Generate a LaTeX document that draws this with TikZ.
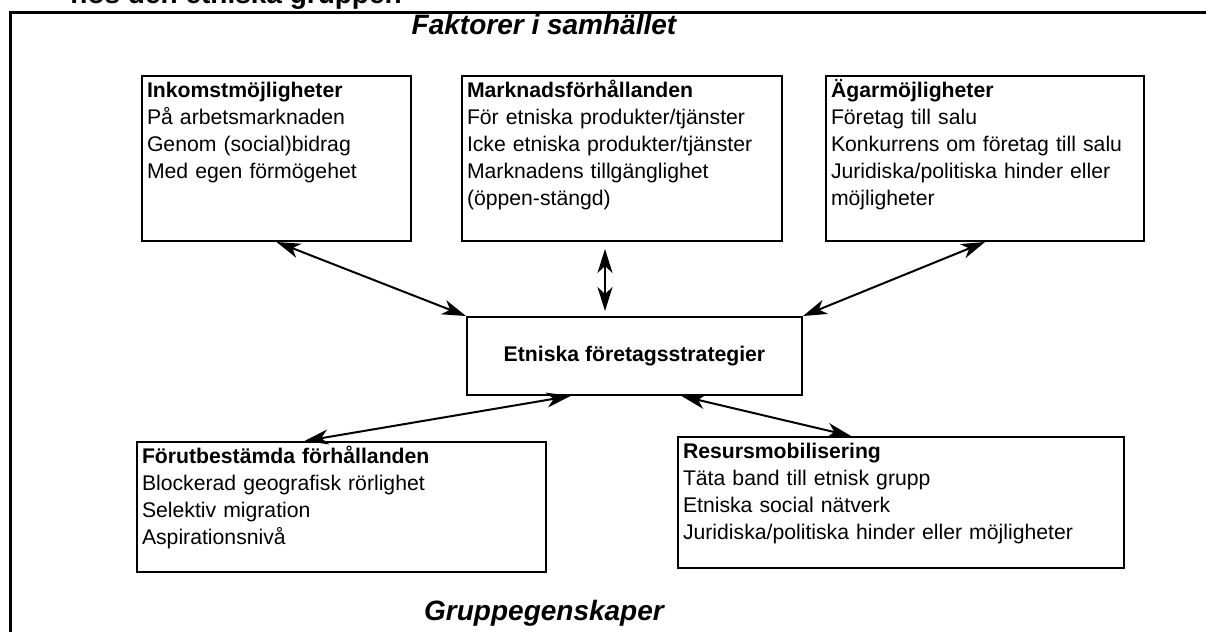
\documentclass[tikz,border=0pt]{standalone}
\usepackage{fontspec}
\setmainfont{Liberation Sans}
\usetikzlibrary{arrows.meta}

\tikzset{
  faktor/.style={draw, line width=1pt, anchor=north west, align=left,
    inner xsep=2.5pt, inner ysep=2.5pt, text height=8pt,
    font=\fontsize{10.6}{13.5}\selectfont},
  pil/.style={{Stealth[length=12pt,width=7.5pt,inset=3.5pt]}-{Stealth[length=12pt,width=7.5pt,inset=3.5pt]}, line width=1pt},
  rubrik/.style={anchor=base, inner sep=0pt, font=\fontsize{14}{16}\selectfont\bfseries\itshape}
}

\begin{document}
\begin{tikzpicture}[x=0.5pt,y=-0.5pt]
    \useasboundingbox (0,0) rectangle (1206,632);
    \clip (0,0) rectangle (1206,632);
    % ram och rubriker
    \draw[line width=1.5pt] (10.5,12.5) rectangle (1230,660);
    \node[anchor=base west, inner sep=0pt, font=\fontsize{14}{16}\selectfont\bfseries] (figtext) at (70,3) {hos den etniska gruppen};
    \node[rubrik] (samhalle) at (544,34) {Faktorer i samhället};
    \node[rubrik] (grupp) at (544,620) {Gruppegenskaper};
    % faktorer i samhallet
    \node[faktor, text width=129.5pt, text depth=69.5pt] (inkomst) at (141,75) {\textbf{Inkomstmöjligheter}\\På arbetsmarknaden\\Genom (social)bidrag\\Med egen förmögehet};
    \node[faktor, text width=155pt, text depth=69.5pt] (marknad) at (461,75) {\textbf{Marknadsförhållanden}\\För etniska produkter/tjänster\\Icke etniska produkter/tjänster\\Marknadens tillgänglighet\\(öppen-stängd)};
    \node[faktor, text width=154pt, text depth=69.5pt] (agar) at (825,75) {\textbf{Ägarmöjligheter}\\Företag till salu\\Konkurrens om företag till salu\\Juridiska/politiska hinder eller\\möjligheter};
    % strategier
    \node[draw, line width=1pt, anchor=north west, minimum width=167.5pt, minimum height=39pt, font=\fontsize{10.6}{13.5}\selectfont\bfseries] (strategi) at (466,316) {Etniska företagsstrategier};
    % gruppegenskaper
    \node[faktor, text width=199.5pt, text depth=52pt] (forut) at (136,441) {\textbf{Förutbestämda förhållanden}\\Blockerad geografisk rörlighet\\Selektiv migration\\Aspirationsnivå};
    \node[faktor, text width=218pt, text depth=52.5pt] (resurs) at (677,436) {\textbf{Resursmobilisering}\\Täta band till etnisk grupp\\Etniska social nätverk\\Juridiska/politiska hinder eller möjligheter};
    % pilar
    \draw[pil] (inkomst.south) -- (strategi.north west);
    \draw[pil, shorten <=3.5pt, shorten >=2.5pt] ([xshift=-8.5pt]marknad.south) -- ([xshift=-8.5pt]marknad.south |- strategi.north);
    \draw[pil] (agar.south) -- (strategi.north east);
    \draw[pil] ([xshift=-32pt]strategi.south) -- ([xshift=-18.5pt]forut.north);
    \draw[pil] ([xshift=23.5pt]strategi.south) -- ([xshift=-25pt]resurs.north);
\end{tikzpicture}
\end{document}
